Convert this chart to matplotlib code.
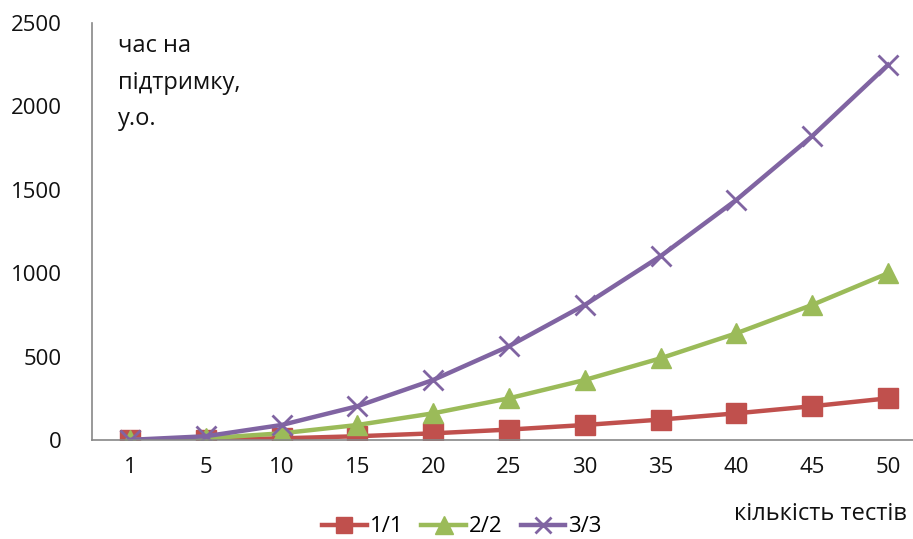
import numpy as np
import matplotlib.pyplot as plt

# number of tests and maintenance time for each ratio
tests = ['1', '5', '10', '15', '20', '25', '30', '35', '40', '45', '50']
series_11 = [0.1, 2.5, 10, 22.5, 40, 62.5, 90, 122.5, 160, 202.5, 250]
series_22 = [0.4, 10, 40, 90, 160, 250, 360, 490, 640, 810, 1000]
series_33 = [0.9, 22.5, 90, 202.5, 360, 562.5, 810, 1102.5, 1440, 1822.5, 2250]
names = ['1/1', '2/2', '3/3']

plt.rcParams['font.family'] = ['Open Sans', 'DejaVu Sans']

fig = plt.figure(figsize=(9.13, 5.39), dpi=100)
ax = fig.add_axes([92 / 913, 99 / 539, 834 / 913, 417 / 539])

x = np.arange(len(tests))
ax.plot(x, series_11, color='#C0504D', lw=3.2, marker='s', ms=14,
        mec='#C0504D', label=names[0])
ax.plot(x, series_22, color='#9BBB59', lw=3.2, marker='^', ms=15,
        mec='#9BBB59', label=names[1])
ax.plot(x, series_33, color='#8064A2', lw=3.2, marker='x', ms=14, mew=2,
        label=names[2])

ax.set_xlim(-0.5, 10.5)
ax.set_ylim(0, 2500)
ax.set_yticks([0, 500, 1000, 1500, 2000, 2500])
ax.set_xticks(x)
ax.set_xticklabels(tests)
ax.tick_params(axis='both', length=0, labelsize=16, colors='#111111')
ax.tick_params(axis='y', pad=22)
ax.tick_params(axis='x', pad=12)

for side in ['top', 'right']:
    ax.spines[side].set_visible(False)
for side in ['left', 'bottom']:
    ax.spines[side].set_color('#878787')
    ax.spines[side].set_linewidth(1.2)

fig.text(118 / 913, 1 - 34 / 539, 'час на\nпідтримку,\nу.о.', fontsize=17,
         va='top', ha='left', color='#111111', linespacing=1.7)
fig.text(907 / 913, 1 - 514 / 539, 'кількість тестів', fontsize=17,
         va='center', ha='right', color='#111111')

fig.legend(loc='center', bbox_to_anchor=(462 / 913, 1 - 527 / 539), ncol=3,
           frameon=False, fontsize=16, handlelength=2.0, handletextpad=0.15,
           columnspacing=0.8, markerscale=0.85)

fig.savefig('out.png', dpi=100)
